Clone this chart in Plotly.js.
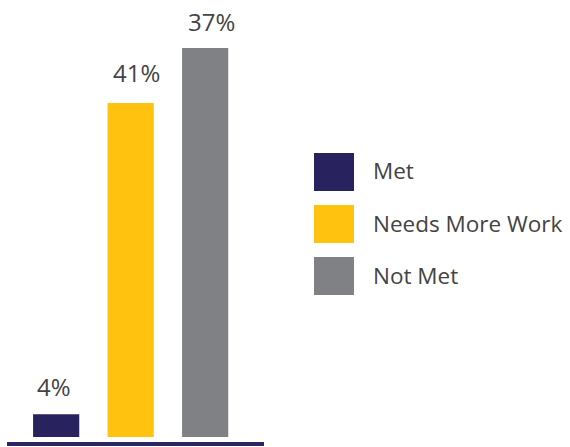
<!DOCTYPE html>
<html>
<head>
<meta charset="utf-8">
<script src="https://cdn.plot.ly/plotly-3.0.1.min.js"></script>
<style>html,body{margin:0;padding:0;background:#fff;}#chart{width:570px;height:447px;}</style>
</head>
<body>
<div id="chart"></div>
<script>
// Data
const categories = ['Met', 'Needs More Work', 'Not Met'];
const barValues = [2.4, 35.2, 41.0];          // bar heights as drawn
const valueLabels = ['4%', '41%', '37%'];      // printed labels
const colors = ['#28235f', '#ffc20e', '#808184'];

// label placement styling (pixels)
const labelXShift = [-2, 6, 6];
const labelYShift = [9, 12, 8];

const FONT = '"Open Sans", "Noto Sans", sans-serif';
const TEXT = '#444444';

const trace = {
  type: 'bar',
  x: categories,
  y: barValues,
  marker: {color: colors},
  width: 0.62,
  hoverinfo: 'skip',
  showlegend: false
};

const annotations = categories.map((c, i) => ({
  x: c, y: barValues[i], xref: 'x', yref: 'y',
  text: valueLabels[i], showarrow: false,
  yanchor: 'bottom', yshift: labelYShift[i], xshift: labelXShift[i],
  font: {family: FONT, size: 24, color: TEXT}
}));

// Custom legend (large swatches)
const shapes = [];
const legX0 = 314, legW = 40, legH = 38, legY0 = 153, legStep = 52;
const W = 570, H = 447, mL = 7, mR = 306, mT = 0, mB = 5;
const pw = W - mL - mR, ph = H - mT - mB;
const toPX = x => (x - mL) / pw;
const toPY = y => 1 - (y - mT) / ph;
categories.forEach((c, i) => {
  const top = legY0 + i * legStep;
  shapes.push({
    type: 'rect', xref: 'paper', yref: 'paper',
    x0: toPX(legX0), x1: toPX(legX0 + legW),
    y0: toPY(top + legH), y1: toPY(top),
    fillcolor: colors[i], line: {width: 0}
  });
  annotations.push({
    xref: 'paper', yref: 'paper',
    x: toPX(371), y: toPY(top + legH / 2 - 1),
    xanchor: 'left', yanchor: 'middle',
    text: c, showarrow: false,
    font: {family: FONT, size: 22.5, color: TEXT}
  });
});

const layout = {
  width: W, height: H,
  margin: {l: mL, r: mR, t: mT, b: mB, pad: 0},
  paper_bgcolor: '#fff', plot_bgcolor: '#fff',
  xaxis: {
    type: 'category', range: [-0.66, 2.79],
    showticklabels: false, ticks: '', showgrid: false, zeroline: false,
    showline: true, linecolor: '#2b2763', linewidth: 4, fixedrange: true
  },
  yaxis: {
    range: [-0.53, 46.05],
    showticklabels: false, ticks: '', showgrid: false, zeroline: false,
    showline: false, fixedrange: true
  },
  annotations: annotations,
  shapes: shapes,
  showlegend: false
};

Plotly.newPlot('chart', [trace], layout, {displayModeBar: false, staticPlot: true});
</script>
</body>
</html>
